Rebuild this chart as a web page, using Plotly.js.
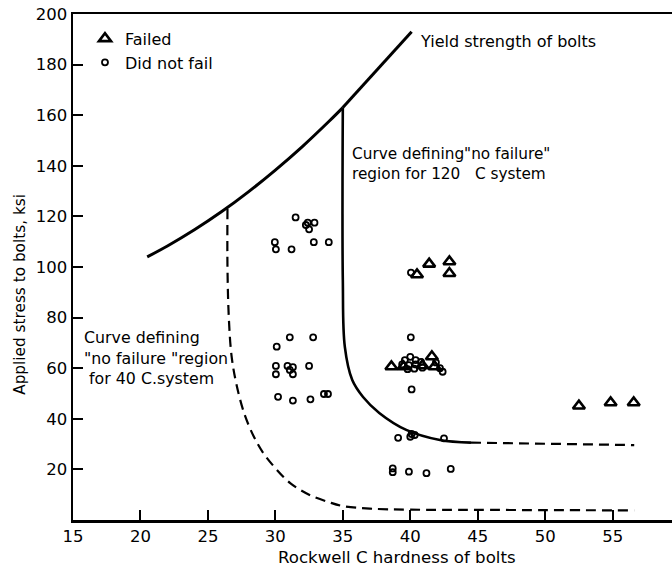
<!DOCTYPE html>
<html><head><meta charset="utf-8">
<script src="https://cdn.plot.ly/plotly-3.0.1.min.js"></script>
<style>body{margin:0;background:#fff}#chart{width:672px;height:570px}</style>
</head><body><div id="chart"></div>
<script>
// Yield strength of bolts: curved part up to the kink, then straight part
const yieldX = [20.5, 22, 24, 26, 28, 30, 32, 34, 35];
const yieldY = [104, 108.3, 114.7, 121.8, 129.7, 138.3, 147.6, 157.7, 163];
const yieldTopX = [35, 40.1];
const yieldTopY = [163, 193];
// "no failure" curve for 120 C system (solid part, then dashed extension)
const c120X = [35, 35, 35.15, 35.7, 36.5, 37.7, 39.7, 42.2, 44.5];
const c120Y = [163, 95, 68.4, 55.3, 48.6, 42.3, 35.6, 31.6, 30.6];
const c120dX = [44.5, 50, 56.6];
const c120dY = [30.6, 30.1, 29.6];
// "no failure" curve for 40 C system (dashed)
const c40X = [26.45, 26.45, 26.55, 26.75, 27.1, 27.7, 28.4, 29.1, 30, 31.1, 32.5, 34, 35, 37, 40, 45, 56.6];
const c40Y = [123, 100, 80, 65, 54, 42, 33, 26.5, 20.5, 14.6, 10, 7, 5.5, 4.5, 4.1, 4, 3.8];
// Did not fail (circles)
const okX = [31.5, 32.26, 32.4, 32.9, 32.5, 29.96, 30.04, 31.2, 32.85, 33.96,
  30.1, 31.07, 32.8, 30.04, 30.04, 30.9, 31.3, 31.07, 31.3, 32.5, 30.2, 31.3, 32.6, 33.6, 33.9,
  40.04, 40.1, 39.1, 40, 40.1, 40.33, 42.5, 38.7, 38.7, 39.9, 41.2, 43,
  40.05,
  40.0, 39.6, 40.4, 39.4, 39.9, 40.4, 40.8, 39.8, 40.3, 40.9, 42.2, 42.4, 41.9];
const okY = [119.6, 116.6, 117.5, 117.5, 114.9, 109.8, 107, 107, 109.8, 109.8,
  68.5, 72.2, 72.2, 60.9, 57.6, 60.9, 60.4, 59.3, 57.6, 60.9, 48.7, 47.2, 47.7, 49.8, 49.8,
  72.2, 51.6, 32.5, 32.9, 34, 33.6, 32.3, 20.4, 18.9, 19.1, 18.5, 20.2,
  97.8,
  64.5, 63.2, 63.2, 61.5, 61.2, 61.5, 62.5, 59.6, 59.8, 60.2, 60, 58.6, 62.3];
// Failed (triangles)
const failX = [41.4, 42.9, 42.9, 40.5, 38.6, 39.5, 41.6, 41.8, 40.9, 52.5, 54.85, 56.56];
const failY = [101.2, 102.1, 97.5, 97, 60.6, 60.6, 64.6, 60.6, 61, 45.1, 46.4, 46.4];
const xTicks = [15, 20, 25, 30, 35, 40, 45, 50, 55];
const yTicks = [20, 40, 60, 80, 100, 120, 140, 160, 180, 200];

const F = 'DejaVu Sans, sans-serif';
const skip = {showlegend: false, hoverinfo: 'skip'};
const traces = [
  Object.assign({x: yieldX, y: yieldY, mode: 'lines', line: {color: '#000', width: 3, shape: 'spline'}}, skip),
  Object.assign({x: yieldTopX, y: yieldTopY, mode: 'lines', line: {color: '#000', width: 3}}, skip),
  Object.assign({x: c120X, y: c120Y, mode: 'lines', line: {color: '#000', width: 2.6, shape: 'spline'}}, skip),
  Object.assign({x: c120dX, y: c120dY, mode: 'lines', line: {color: '#000', width: 2.2, dash: '10px,6px'}}, skip),
  Object.assign({x: c40X, y: c40Y, mode: 'lines', line: {color: '#000', width: 2.2, dash: '10px,6px', shape: 'spline'}}, skip),
  {x: failX, y: failY, mode: 'markers', name: 'Failed',
   marker: {symbol: 'triangle-up-open', size: 10.5, color: '#000', line: {width: 2.6, color: '#000'}}},
  {x: okX, y: okY, mode: 'markers', name: 'Did not fail',
   marker: {symbol: 'circle-open', size: 6, color: '#000', line: {width: 1.8, color: '#000'}}}
];
const layout = {
  width: 672, height: 570,
  margin: {l: 73, r: 0, t: 14, b: 50},
  paper_bgcolor: '#fff', plot_bgcolor: '#fff',
  font: {family: F, color: '#000'},
  xaxis: {range: [15, 59.4], tickvals: xTicks, ticks: 'inside', ticklen: 10, tickwidth: 2, tickcolor: '#000',
    showline: true, linewidth: 2.5, linecolor: '#000', mirror: true, showgrid: false, zeroline: false,
    tickfont: {family: F, size: 16.5, color: '#000'}},
  yaxis: {range: [0, 200], tickvals: yTicks, ticks: 'inside', ticklen: 10, tickwidth: 2, tickcolor: '#000',
    showline: true, linewidth: 2.5, linecolor: '#000', showgrid: false, zeroline: false,
    tickfont: {family: F, size: 16.5, color: '#000'}},
  showlegend: true,
  legend: {x: 0.02, y: 0.985, xanchor: 'left', yanchor: 'top', bgcolor: 'rgba(0,0,0,0)',
    font: {family: F, size: 16, color: '#000'}, tracegroupgap: 0, itemwidth: 30},
  annotations: [
    {x: 40.55, y: 189, xref: 'x', yref: 'y', xanchor: 'left', yanchor: 'middle', showarrow: false,
     text: 'Yield strength of bolts', font: {family: F, size: 16}},
    {x: 35.5, y: 140.7, xref: 'x', yref: 'y', xanchor: 'left', yanchor: 'middle', align: 'left', showarrow: false,
     text: 'Curve defining"no failure"<br>region for 120\u00a0\u00a0 C system', font: {family: F, size: 15.3}},
    {x: 15.7, y: 64.2, xref: 'x', yref: 'y', xanchor: 'left', yanchor: 'middle', align: 'left', showarrow: false,
     text: 'Curve defining<br>"no failure "region<br>\u00a0for 40 C.system', font: {family: F, size: 15.8}},
    {x: -0.0885, y: 0.447, xref: 'paper', yref: 'paper', xanchor: 'center', yanchor: 'middle', showarrow: false,
     textangle: -90, text: 'Applied stress to bolts, ksi', font: {family: F, size: 15.3}},
    {x: 0.541, y: -0.075, xref: 'paper', yref: 'paper', xanchor: 'center', yanchor: 'middle', showarrow: false,
     text: 'Rockwell C hardness of bolts', font: {family: F, size: 16.6}}
  ]
};
Plotly.newPlot('chart', traces, layout, {displayModeBar: false, staticPlot: true});
</script></body></html>
